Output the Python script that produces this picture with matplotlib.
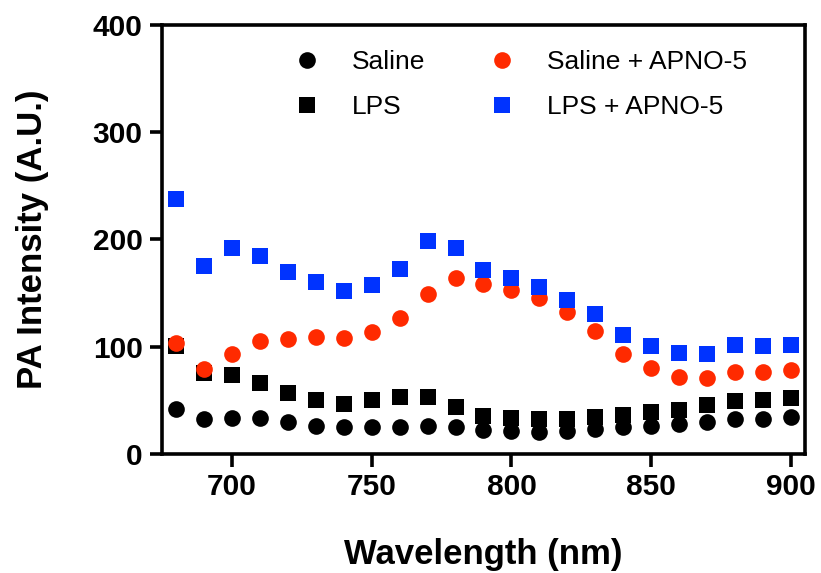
import numpy as np
import matplotlib
matplotlib.use("Agg")
from matplotlib import pyplot as plt

plt.rcParams['font.family'] = ['Liberation Sans', 'DejaVu Sans']

# wavelengths (nm)
wavelength = [680, 690, 700, 710, 720, 730, 740, 750, 760, 770, 780, 790,
              800, 810, 820, 830, 840, 850, 860, 870, 880, 890, 900]

saline = [41.6, 32.3, 33.2, 33.9, 30.1, 26.4, 24.8, 24.8, 25.5, 26.1, 24.8, 22.4,
          21.1, 20.1, 21.7, 23.3, 24.8, 26.4, 28.0, 29.5, 32.6, 32.6, 34.1]
lps = [101, 75.2, 74.0, 66.2, 56.5, 50.7, 46.6, 50.4, 53.2, 53.2, 44.1, 35.7,
       33.2, 32.6, 32.6, 34.8, 36.7, 38.8, 41.0, 46.0, 49.7, 50.7, 52.2]
saline_apno = [103.5, 79.3, 93.3, 105, 107.3, 108.8, 108.5, 114, 126.9, 149.3, 163.8, 158.6,
               153, 145.5, 132, 114.7, 93.3, 79.9, 71.5, 70.9, 76.1, 76.8, 78.4]
lps_apno = [238, 175.6, 192, 185, 170, 160.7, 151.7, 158, 172.6, 199, 191.8, 172,
            164, 155.4, 143.3, 130.6, 111.3, 100.4, 94.2, 93.3, 101.7, 100.4, 102]

fig = plt.figure(figsize=(8.21, 5.73), dpi=100)
ax = fig.add_axes([0.1973, 0.2077, 0.7832, 0.7487])

ms = 12
ax.plot(wavelength, saline, 'o', color='black', ms=ms, mew=0, label='Saline')
ax.plot(wavelength, lps, 's', color='black', ms=ms, mew=0, label='LPS')
ax.plot(wavelength, saline_apno, 'o', color='#FF2A00', ms=ms, mew=0, label='Saline + APNO-5')
ax.plot(wavelength, lps_apno, 's', color='#0033FF', ms=ms, mew=0, label='LPS + APNO-5')

ax.set_xlim(675, 905)
ax.set_ylim(0, 400)
ax.set_xticks([700, 750, 800, 850, 900])
ax.set_yticks([0, 100, 200, 300, 400])

for s in ax.spines.values():
    s.set_linewidth(2.6)
ax.tick_params(direction='out', length=9, width=2.6, labelsize=21.5)
ax.tick_params(axis='x', pad=5)
ax.tick_params(axis='y', pad=5)
for lab in ax.get_xticklabels() + ax.get_yticklabels():
    lab.set_fontweight('bold')

ax.set_xlabel('Wavelength (nm)', fontsize=25, fontweight='bold', labelpad=26)
ax.set_ylabel('PA Intensity (A.U.)', fontsize=25, fontweight='bold', labelpad=31)

ax.legend(ncol=2, frameon=False, fontsize=19, handlelength=1.0, handletextpad=1.2,
          columnspacing=2.4, labelspacing=0.8, borderpad=0, borderaxespad=0,
          loc='upper left', bbox_to_anchor=(294 / 821, 1 - 50 / 573),
          bbox_transform=fig.transFigure)

plt.savefig('out.png', dpi=100)
